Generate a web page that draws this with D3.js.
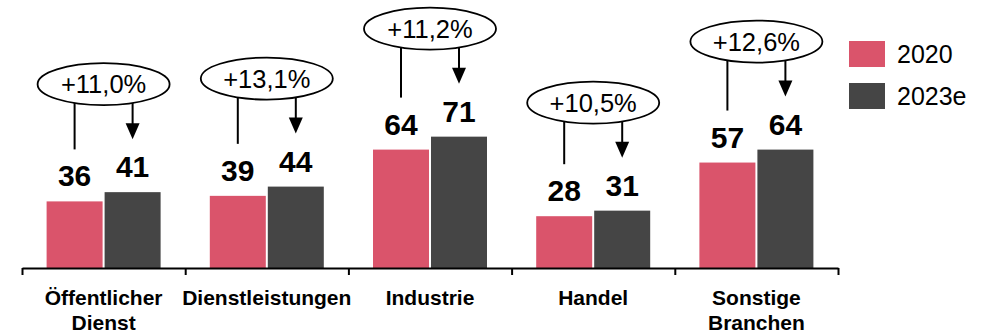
<!DOCTYPE html>
<html><head><meta charset="utf-8">
<script src="https://cdn.jsdelivr.net/npm/d3@7"></script>
<style>body{margin:0;background:#fff;} svg{display:block;}</style>
</head><body>
<svg id="c" width="984" height="333"></svg>
<script>
const categories = [["Öffentlicher","Dienst"],["Dienstleistungen"],["Industrie"],["Handel"],["Sonstige","Branchen"]];
const series = ["2020","2023e"];
const values2020 = [36, 39, 64, 28, 57];
const values2023 = [41, 44, 71, 31, 64];
const growthLabels = ["+11,0%","+13,1%","+11,2%","+10,5%","+12,6%"];
const colors = ["#DA546B","#454545"];

const svg = d3.select("#c");
const font = "Liberation Sans, Arial, sans-serif";
const keys = categories.map((c,i)=>i);
const x = d3.scaleBand().domain(keys).range([22, 838]).paddingInner(0).paddingOuter(0);
const x1 = d3.scaleBand().domain(series).range([24.6, 138.6]).paddingInner(0.0345);
const y = d3.scaleLinear().domain([0, 100]).range([268, 83]);

// bars
const data = keys.map(i => [values2020[i], values2023[i]]);
const g = svg.append("g");
keys.forEach(i => {
  const gx = x(i);
  data[i].forEach((v, s) => {
    g.append("rect").attr("x", gx + x1(series[s])).attr("y", y(v))
      .attr("width", x1.bandwidth()).attr("height", y(0) - y(v)).attr("fill", colors[s]);
    g.append("text").attr("x", gx + x1(series[s]) + x1.bandwidth()/2).attr("y", y(v) - 15)
      .attr("text-anchor","middle").attr("font-family", font).attr("font-weight","bold")
      .attr("font-size", 30).attr("fill","#000").text(v);
  });
  // annotation
  const cx = gx + x.bandwidth()/2;
  const cy = y(values2023[i]) - 108;
  const rx = 66, ry = 21;
  g.append("ellipse").attr("cx", cx).attr("cy", cy).attr("rx", rx).attr("ry", ry)
    .attr("fill","#fff").attr("stroke","#000").attr("stroke-width",1.8);
  g.append("text").attr("x", cx).attr("y", cy + 9).attr("text-anchor","middle")
    .attr("font-family", font).attr("font-size", 25.5).attr("fill","#000").text(growthLabels[i]);
  const lx = gx + x1(series[0]) + x1.bandwidth()/2;
  const rxp = gx + x1(series[1]) + x1.bandwidth()/2;
  const ey = xx => cy + ry*Math.sqrt(Math.max(0, 1 - ((xx-cx)/rx)**2));
  g.append("line").attr("x1", lx).attr("x2", lx).attr("y1", ey(lx)).attr("y2", y(values2020[i]) - 52)
    .attr("stroke","#000").attr("stroke-width",2);
  const tip = y(values2023[i]) - 53;
  g.append("line").attr("x1", rxp).attr("x2", rxp).attr("y1", ey(rxp)).attr("y2", tip - 12)
    .attr("stroke","#000").attr("stroke-width",2);
  g.append("path").attr("d", `M${rxp-7},${tip-16}L${rxp+7},${tip-16}L${rxp},${tip}Z`).attr("fill","#000");
  // category labels
  const t = g.append("text").attr("text-anchor","middle").attr("font-family", font)
    .attr("font-weight","bold").attr("font-size", 21).attr("fill","#000");
  categories[i].forEach((line, k) => {
    t.append("tspan").attr("x", cx).attr("y", 305 + k*25).text(line);
  });
});

// axis with boundary ticks
const tickScale = d3.scaleLinear().domain([0, keys.length]).range([22, 838]);
const ax = svg.append("g").attr("transform","translate(0,268)")
  .call(d3.axisBottom(tickScale).tickValues(d3.range(keys.length+1)).tickSize(7).tickSizeOuter(0).tickFormat(""));
ax.selectAll("path,line").attr("stroke","#000").attr("stroke-width",2);

// legend
const leg = svg.append("g");
series.forEach((s, k) => {
  leg.append("rect").attr("x", 849).attr("y", 41 + k*42).attr("width", 36).attr("height", 26).attr("fill", colors[k]);
  leg.append("text").attr("x", 897).attr("y", 63 + k*42).attr("font-family", font)
    .attr("font-size", 25).attr("fill","#000").text(s);
});
</script>
</body></html>
